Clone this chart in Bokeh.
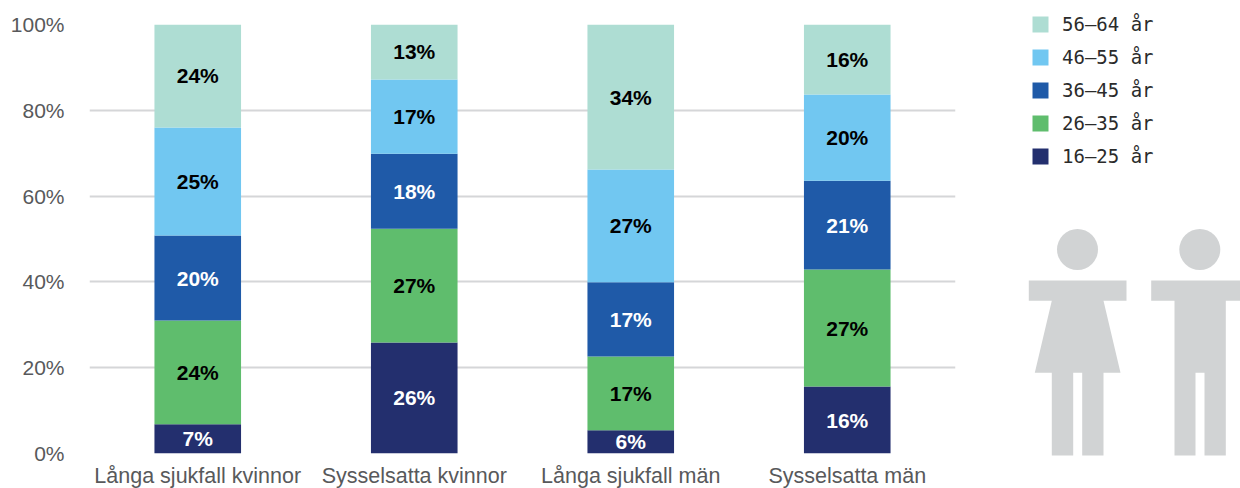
import numpy as np
from bokeh.core.properties import value
from bokeh.embed import file_html
from bokeh.models import ColumnDataSource, FactorRange, FixedTicker, Legend, LegendItem, Range1d
from bokeh.plotting import figure
from bokeh.resources import INLINE

categories = ["Långa sjukfall kvinnor", "Sysselsatta kvinnor", "Långa sjukfall män", "Sysselsatta män"]
age_16_25 = [6.8, 25.9, 5.4, 15.6]
age_26_35 = [24.2, 26.5, 17.2, 27.3]
age_36_45 = [19.8, 17.5, 17.3, 20.7]
age_46_55 = [25.2, 17.3, 26.3, 20.1]
age_56_64 = [24.0, 12.8, 33.8, 16.3]
labels_16_25 = ["7%", "26%", "6%", "16%"]
labels_26_35 = ["24%", "27%", "17%", "27%"]
labels_36_45 = ["20%", "18%", "17%", "21%"]
labels_46_55 = ["25%", "17%", "27%", "20%"]
labels_56_64 = ["24%", "13%", "34%", "16%"]
series_names = ["16–25 år", "26–35 år", "36–45 år", "46–55 år", "56–64 år"]
colors = ["#232F6E", "#5FBD6D", "#1F5AA8", "#71C7F1", "#AEDDD3"]
label_colors = ["#FFFFFF", "#000000", "#FFFFFF", "#000000", "#000000"]
y_ticks = [0, 20, 40, 60, 80, 100]
y_tick_labels = ["0%", "20%", "40%", "60%", "80%", "100%"]

series = [age_16_25, age_26_35, age_36_45, age_46_55, age_56_64]
series_labels = [labels_16_25, labels_26_35, labels_36_45, labels_46_55, labels_56_64]

AXIS = "Liberation Sans"
p = figure(
    width=975, height=490, x_range=FactorRange(factors=categories), y_range=Range1d(0, 100),
    output_backend="svg", toolbar_location=None,
    min_border_left=89, min_border_right=20, min_border_top=24, min_border_bottom=35,
    styles={"position": "absolute", "left": "0px", "top": "0px"},
)
p.outline_line_color = None
p.background_fill_color = None
p.border_fill_color = None
p.xgrid.grid_line_color = None
p.ygrid.grid_line_color = "#D5D6D8"
p.ygrid.grid_line_width = 2
p.ygrid.ticker = FixedTicker(ticks=y_ticks)
p.yaxis.ticker = FixedTicker(ticks=y_ticks)
p.yaxis.major_label_overrides = {t: l for t, l in zip(y_ticks, y_tick_labels)}
for ax in (p.xaxis[0], p.yaxis[0]):
    ax.axis_line_color = None
    ax.major_tick_line_color = None
    ax.major_tick_in = 0
    ax.major_tick_out = 0
    ax.minor_tick_line_color = None
    ax.major_label_text_font = AXIS
    ax.major_label_text_color = "#58595B"
p.xaxis.major_label_text_font_size = "21.5px"
p.yaxis.major_label_text_font_size = "21px"
p.xaxis.major_label_standoff = 10
p.yaxis.major_label_standoff = 25

bottom = np.zeros(len(categories))
for vals, lab, name, col, lcol in zip(series, series_labels, series_names, colors, label_colors):
    vals = np.array(vals)
    src = ColumnDataSource(dict(x=categories, bottom=bottom, top=bottom + vals,
                                mid=bottom + vals / 2, label=lab))
    p.vbar(x="x", bottom="bottom", top="top", width=0.4, source=src,
           fill_color=col, line_color=None)
    p.text(x="x", y="mid", text="label", source=src, text_align="center", text_baseline="middle",
           text_font=value(AXIS), text_font_style="bold", text_font_size="21px", text_color=lcol)
    bottom = bottom + vals

# right-hand panel in page pixels: legend and pictograms
q = figure(
    width=265, height=488, x_range=Range1d(975, 1240), y_range=Range1d(488, 0),
    output_backend="svg", toolbar_location=None,
    min_border_left=0, min_border_right=0, min_border_top=0, min_border_bottom=0,
    styles={"position": "absolute", "left": "975px", "top": "0px"},
)
q.axis.visible = False
q.grid.visible = False
q.outline_line_color = None
q.background_fill_color = None
q.border_fill_color = None

items = []
for name, col in zip(series_names, colors):
    # a key only: this bar lies outside the panel's range, the legend draws its swatch
    r = q.vbar(x=[0], top=[0], bottom=[0], width=1, fill_color=col, line_color=None)
    items.append(LegendItem(label=name, renderers=[r]))
legend = Legend(items=items[::-1], location=(55, 321), orientation="vertical",
                border_line_color=None, background_fill_alpha=0,
                padding=0, margin=0, spacing=11, glyph_width=20, glyph_height=20,
                label_standoff=12, label_text_font="DejaVu Sans Mono",
                label_text_font_size="19px", label_text_color="#2B2B2B")
q.add_layout(legend)

GREY = "#D1D3D4"
q.circle(x=[1077, 1199.3], y=[249, 249], radius=20.5, fill_color=GREY, line_color=None)
woman_x = [[1028.3, 1126, 1126, 1103, 1120, 1103, 1103, 1081.7, 1081.7, 1072.7, 1072.7, 1051.3, 1051.3, 1034.3, 1051.3, 1028.3]]
woman_y = [[280, 280, 300.3, 300.3, 372.3, 372.3, 455, 455, 372.3, 372.3, 455, 455, 372.3, 372.3, 300.3, 300.3]]
man_x = [[1150.7, 1248, 1248, 1225.3, 1225.3, 1204, 1204, 1195, 1195, 1174, 1174, 1150.7]]
man_y = [[280, 280, 300.3, 300.3, 455, 455, 372.3, 372.3, 455, 455, 300.3, 300.3]]
q.patches(woman_x + man_x, woman_y + man_y, fill_color=GREY, line_color=None)

open("out.html", "w").write(file_html([p, q], INLINE))
